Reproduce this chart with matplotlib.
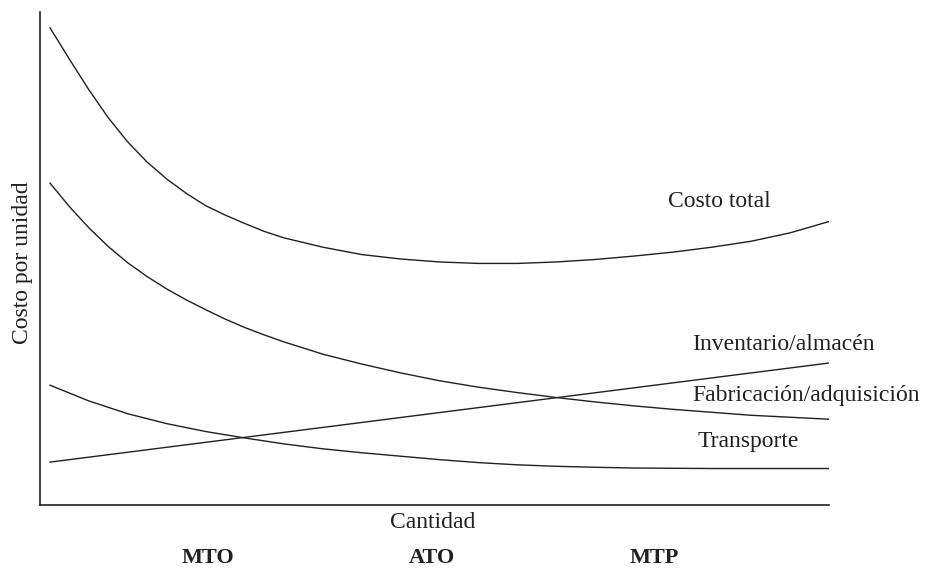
import matplotlib
matplotlib.use('Agg')
import matplotlib.pyplot as plt

plt.rcParams['font.family'] = ['Liberation Serif', 'DejaVu Serif']

ink = '#231f20'

# cantidad (arbitrary units, 0..100)
x_total = [0, 2.5, 5, 7.5, 10, 12.5, 15, 17.5, 20, 22.5, 25, 27.5, 30, 35, 40,
           45, 50, 55, 60, 65, 70, 75, 80, 85, 90, 95, 100]
costo_total = [96.8, 90.4, 84.2, 78.5, 73.6, 69.5, 66.1, 63.2, 60.7, 58.8, 57.1,
               55.5, 54.2, 52.3, 50.8, 49.9, 49.3, 49.0, 49.0, 49.3, 49.8, 50.5,
               51.3, 52.3, 53.5, 55.2, 57.5]

x_fab = [0, 2.5, 5, 7.5, 10, 12.5, 15, 17.5, 20, 22.5, 25, 27.5, 30, 35, 40,
         45, 50, 55, 60, 65, 70, 75, 80, 85, 90, 95, 100]
fabricacion = [65.3, 60.5, 56.2, 52.4, 49.1, 46.3, 43.8, 41.6, 39.6, 37.7, 36.0,
               34.5, 33.1, 30.6, 28.6, 26.8, 25.2, 23.9, 22.8, 21.8, 20.9, 20.1,
               19.4, 18.8, 18.2, 17.8, 17.4]

x_inv = [0, 100]
inventario = [8.7, 28.8]

x_trans = [0, 5, 10, 15, 20, 25, 30, 35, 40, 45, 50, 55, 60, 65, 70, 75, 80,
           85, 90, 95, 100]
transporte = [24.3, 21.1, 18.5, 16.5, 14.9, 13.6, 12.4, 11.4, 10.6, 9.9, 9.2,
              8.6, 8.15, 7.85, 7.65, 7.5, 7.45, 7.4, 7.4, 7.4, 7.4]

labels = ['Costo total', 'Inventario/almacén', 'Fabricación/adquisición', 'Transporte']
estrategias = ['MTO', 'ATO', 'MTP']

W, H = 926, 573
fig = plt.figure(figsize=(W / 100, H / 100), dpi=100)
ax = fig.add_axes([39.5 / W, (H - 505) / H, (829 - 39.5) / W, (505 - 12) / H])

for xs, ys in [(x_total, costo_total), (x_fab, fabricacion),
               (x_inv, inventario), (x_trans, transporte)]:
    ax.plot(xs, ys, color=ink, lw=1.0, solid_joinstyle='round')

ax.set_xlim(-1.35, 100)
ax.set_ylim(0, 100)
ax.set_xticks([])
ax.set_yticks([])
for s in ['top', 'right']:
    ax.spines[s].set_visible(False)
for s in ['left', 'bottom']:
    ax.spines[s].set_linewidth(1.2)
    ax.spines[s].set_color(ink)

# curve labels
label_pos = [(79.3, 61.5), (82.4, 32.5), (82.4, 22.3), (83.1, 12.8)]
for txt, (lx, ly) in zip(labels, label_pos):
    ax.text(lx, ly, txt, fontsize=17, color=ink, ha='left', va='center',
            clip_on=False)

fig.text(433 / W, 1 - 523 / H, 'Cantidad', fontsize=17, color=ink,
         ha='center', va='center')
fig.text(23 / W, 1 - 263 / H, 'Costo por unidad', fontsize=17, color=ink,
         ha='center', va='center', rotation=90)

for txt, px in zip(estrategias, [208, 432, 654]):
    fig.text(px / W, 1 - 558 / H, txt, fontsize=16, fontweight='bold',
             color=ink, ha='center', va='center')

fig.savefig('out.png', dpi=100)
